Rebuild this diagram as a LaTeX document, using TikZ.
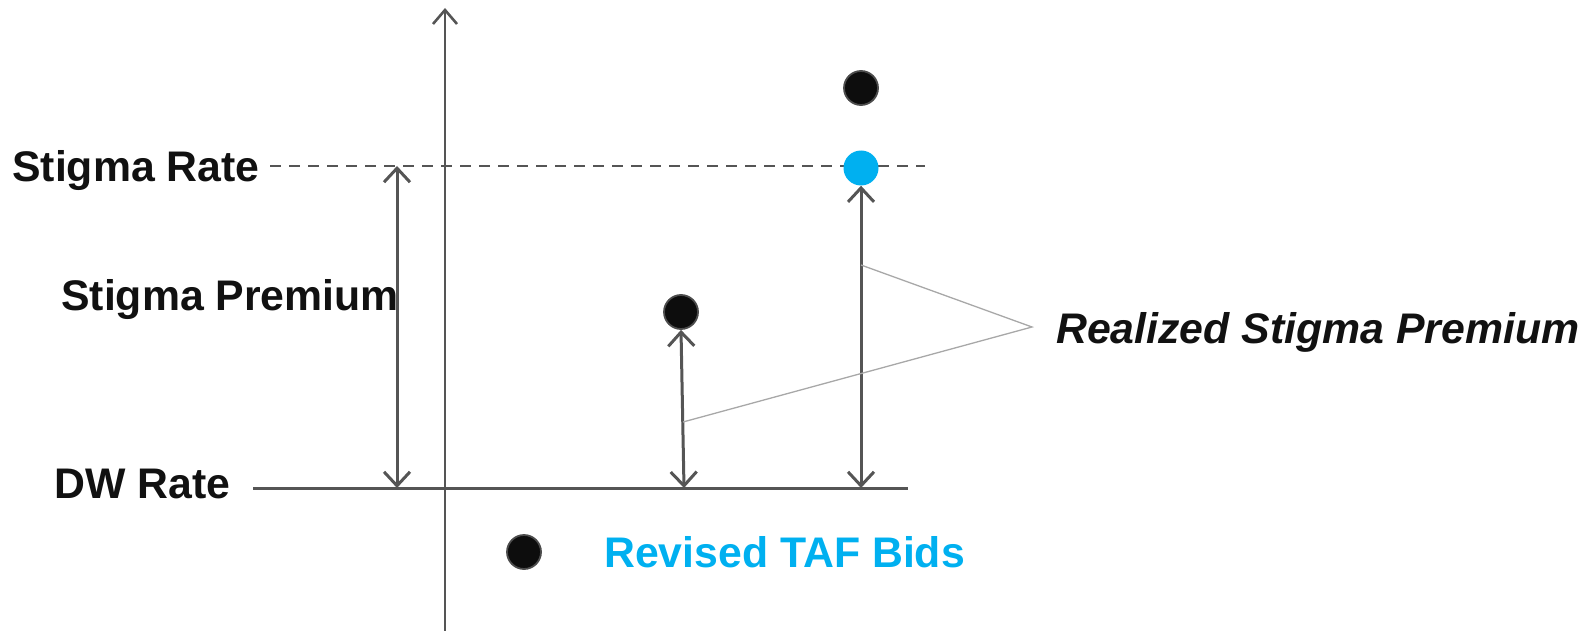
\documentclass[tikz,border=0pt]{standalone}
\usepackage{fontspec}
\setmainfont{Liberation Sans}
\usetikzlibrary{arrows.meta}
\definecolor{lineg}{HTML}{555555}
\definecolor{thin}{HTML}{A8A8A8}
\definecolor{tafblue}{HTML}{00B0F0}
\definecolor{txt}{HTML}{111111}
\tikzset{
  axisline/.style={draw=lineg, line width=3pt},
  dblarrow/.style={draw=lineg, line width=3pt, {Straight Barb[length=14pt,width=26pt,line width=3pt]}-{Straight Barb[length=14pt,width=26pt,line width=3pt]}},
  upaxis/.style={draw=lineg, line width=2.6pt, -{Straight Barb[length=14pt,width=24pt,line width=2.6pt]}},
  leader/.style={draw=thin, line width=1.3pt},
  blackdot/.style={circle, fill=black!95, draw=black!70, line width=1.8pt, minimum size=34pt, inner sep=0pt},
  bluedot/.style={circle, fill=tafblue, draw=none, minimum size=35pt, inner sep=0pt},
  lbl/.style={anchor=west, inner sep=0pt, font=\fontsize{42.8}{46}\selectfont\bfseries, text=txt},
}
\begin{document}
\begin{tikzpicture}[x=1pt,y=-1pt]
\useasboundingbox (0,0) rectangle (1584,631);
% coordinates
\coordinate (axtop) at (445,8);
\coordinate (axbot) at (445,631);
\coordinate (dwl) at (253,488);
\coordinate (dwr) at (908,488);
\coordinate (srl) at (270,166);
\coordinate (srr) at (925,166);
\coordinate (lt) at (397,166);
\coordinate (lb) at (397,488);
\coordinate (mb) at (684,488);
\coordinate (rb) at (861,488);
\coordinate (apex) at (1032,327);
\coordinate (p1) at (861,265);
\coordinate (p2) at (683,422);
% dashed stigma rate line
\draw[draw=lineg, line width=2.2pt, dash pattern=on 11pt off 8pt] (srl) -- (srr);
% dots
\node[blackdot] (d1) at (681,312) {};
\node[blackdot] (d2) at (861,88) {};
\node[bluedot] (d3) at (861,168) {};
\node[blackdot] (d4) at (524,552) {};
% axes
\draw[upaxis] (axbot) -- (axtop);
\draw[axisline] (dwl) -- (dwr);
% double arrows
\draw[dblarrow] (lt) -- (lb);
\draw[dblarrow] (d1.south) -- (mb);
\draw[dblarrow] (d3.south) -- (rb);
% leader lines
\draw[leader] (p1) -- (apex) -- (p2);
% labels
\node[lbl] (sr) at (12,171) {Stigma Rate};
\node[lbl] (sp) at (61,300) {Stigma Premium};
\node[lbl] (dw) at (54,484) {DW Rate};
\node[lbl, font=\fontsize{42.8}{46}\selectfont\bfseries\itshape] (rsp) at (1056,332) {Realized Stigma Premium};
\node[lbl, text=tafblue] (taf) at (604,552) {Revised TAF Bids};
\end{tikzpicture}
\end{document}
